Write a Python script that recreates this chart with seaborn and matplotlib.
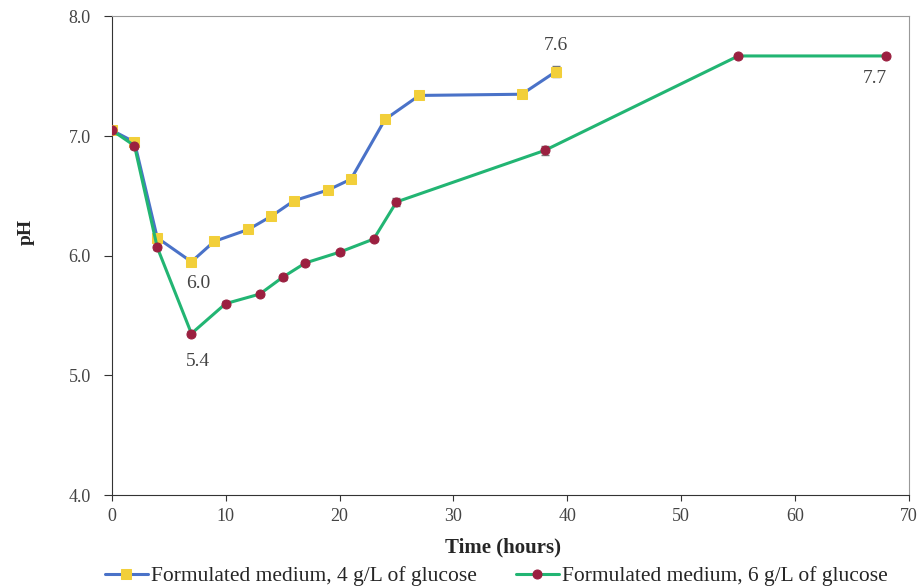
import pandas as pd
import seaborn as sns
import matplotlib.pyplot as plt

# 4 g/L glucose
time_4g = [0, 2, 4, 7, 9, 12, 14, 16, 19, 21, 24, 27, 36, 39]
ph_4g = [7.05, 6.95, 6.15, 5.95, 6.12, 6.22, 6.33, 6.46, 6.55, 6.64, 7.14, 7.34, 7.35, 7.54]
err_4g = [0.02, 0.02, 0.02, 0.02, 0.02, 0.02, 0.02, 0.02, 0.02, 0.02, 0.02, 0.02, 0.03, 0.05]

# 6 g/L glucose
time_6g = [0, 2, 4, 7, 10, 13, 15, 17, 20, 23, 25, 38, 55, 68]
ph_6g = [7.05, 6.92, 6.07, 5.35, 5.60, 5.68, 5.82, 5.94, 6.03, 6.14, 6.45, 6.88, 7.67, 7.67]
err_6g = [0.02, 0.03, 0.02, 0.02, 0.02, 0.02, 0.02, 0.02, 0.02, 0.02, 0.03, 0.04, 0.02, 0.02]

labels = ['Formulated medium, 4 g/L of glucose', 'Formulated medium, 6 g/L of glucose']

# annotations: text, x, y
notes = [('6.0', 7.6, 5.77), ('5.4', 7.6, 5.12), ('7.6', 39.0, 7.76), ('7.7', 67.0, 7.48)]

df = pd.concat([
    pd.DataFrame({'time': time_4g, 'ph': ph_4g, 'err': err_4g, 'medium': labels[0]}),
    pd.DataFrame({'time': time_6g, 'ph': ph_6g, 'err': err_6g, 'medium': labels[1]}),
])

sns.set_style('ticks')
plt.rcParams['font.family'] = ['Liberation Serif', 'DejaVu Serif']

fig, ax = plt.subplots(figsize=(9.23, 5.88), dpi=100)
fig.subplots_adjust(left=0.121, right=0.985, top=0.972, bottom=0.158)

line_col = {labels[0]: '#4a72c8', labels[1]: '#22b573'}
mark_col = {labels[0]: '#f2cf3a', labels[1]: '#9b2040'}
mark = {labels[0]: 's', labels[1]: 'o'}

for name, sub in df.groupby('medium', sort=False):
    ax.errorbar(sub['time'], sub['ph'], yerr=sub['err'], fmt='none',
                ecolor='#777777', elinewidth=1, capsize=3, zorder=2)
    sns.lineplot(data=sub, x='time', y='ph', ax=ax, color=line_col[name],
                 linewidth=2.2, marker=mark[name], markersize=6.5,
                 markerfacecolor=mark_col[name], markeredgecolor=mark_col[name],
                 label=name, zorder=3)

for txt, x, y in notes:
    ax.text(x, y, txt, ha='center', va='center', fontsize=14, color='#444444')

ax.set_xlim(0, 70)
ax.set_ylim(4.0, 8.0)
ax.set_xticks(range(0, 71, 10))
ax.set_yticks([4.0, 5.0, 6.0, 7.0, 8.0])
ax.set_yticklabels(['4.0', '5.0', '6.0', '7.0', '8.0'])
ax.tick_params(axis='y', labelsize=13, length=6, pad=9, colors='#333333', labelcolor='#444444')
ax.tick_params(axis='x', labelsize=13, length=4, pad=5, colors='#333333', labelcolor='#444444')
ax.set_xlabel('Time (hours)', fontsize=15, fontweight='bold')
ax.set_ylabel('pH', fontsize=14, fontweight='bold')
ax.xaxis.set_label_coords(0.491, -0.088)
ax.yaxis.set_label_coords(-0.097, 0.55)

for s in ['left', 'bottom']:
    ax.spines[s].set_color('#333333')
for s in ['top', 'right']:
    ax.spines[s].set_color('#999999')

ax.legend(loc='center', bbox_to_anchor=(0.482, -0.17), ncol=2, frameon=False,
          fontsize=15.5, handlelength=2.0, handletextpad=0.15, columnspacing=1.8)

plt.savefig('out.png', dpi=100)
